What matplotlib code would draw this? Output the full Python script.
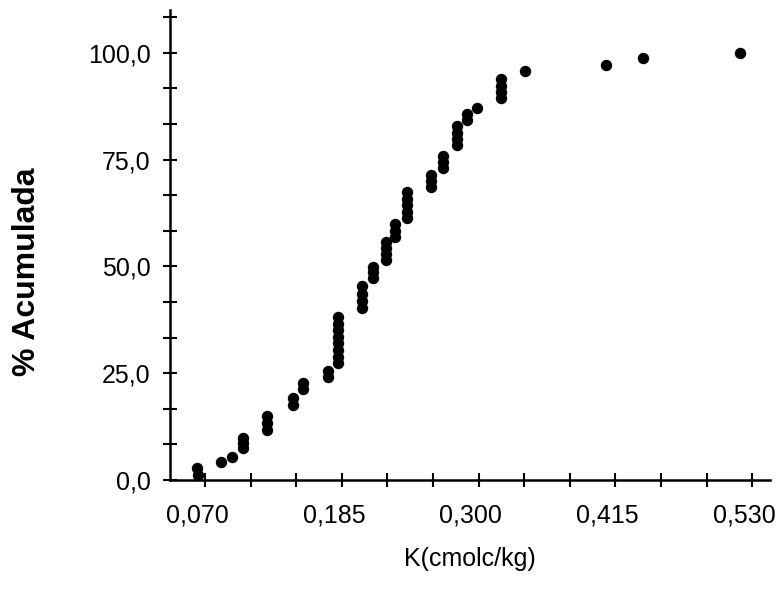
import matplotlib
matplotlib.use("Agg")
import matplotlib.pyplot as plt
from matplotlib.transforms import ScaledTranslation

plt.rcParams['font.family'] = ['Liberation Sans', 'DejaVu Sans']

# K (cmolc/kg) and cumulative percentage
k_vals = [0.063, 0.064, 0.083, 0.093,
          0.102, 0.102, 0.102,
          0.122, 0.122, 0.122,
          0.144, 0.144, 0.152, 0.152, 0.173, 0.173,
          0.182, 0.182, 0.182, 0.182, 0.182, 0.182, 0.182, 0.182,
          0.202, 0.202, 0.202, 0.202,
          0.211, 0.211, 0.211,
          0.222, 0.222, 0.222, 0.222,
          0.230, 0.230, 0.230,
          0.240, 0.240, 0.240, 0.240, 0.240,
          0.260, 0.260, 0.260,
          0.270, 0.270, 0.270,
          0.282, 0.282, 0.282, 0.282,
          0.290, 0.290, 0.299,
          0.319, 0.319, 0.319, 0.319,
          0.339, 0.407, 0.438, 0.520]
pct_vals = [2.8, 1.2, 4.2, 5.4,
            7.4, 8.6, 9.8,
            11.7, 13.3, 15.0,
            17.6, 19.3, 21.3, 22.7, 24.0, 25.4,
            27.3, 28.9, 30.4, 32.0, 33.5, 35.1, 36.6, 38.1,
            40.2, 41.9, 43.6, 45.3,
            47.2, 48.6, 49.9,
            51.4, 52.8, 54.2, 55.6,
            56.8, 58.3, 59.8,
            61.3, 62.8, 64.3, 65.8, 67.3,
            68.5, 70.0, 71.5,
            73.0, 74.4, 75.8,
            78.3, 79.8, 81.3, 82.8,
            84.2, 85.6, 87.1,
            89.3, 90.8, 92.3, 93.8,
            95.8, 97.2, 98.8, 100.0]

x_ticks = [0.070, 0.185, 0.300, 0.415, 0.530]
x_ticklabels = ["0,070", "0,185", "0,300", "0,415", "0,530"]
y_ticks = [0, 25, 50, 75, 100]
y_ticklabels = ["0,0", "25,0", "50,0", "75,0", "100,0"]

fig = plt.figure(figsize=(7.83, 5.91), dpi=100)
ax = fig.add_axes([170 / 783, 111 / 591, 600 / 783, 470 / 591])

ax.plot(k_vals, pct_vals, linestyle='none', marker='o', markersize=7.2,
        color='black', clip_on=False)

ax.set_xlim(0.0405, 0.545)
ax.set_ylim(0, 110)

ax.spines[['right', 'top']].set_visible(False)
for s in ['left', 'bottom']:
    ax.spines[s].set_linewidth(1.8)
    ax.spines[s].set_color('black')

# every label has two unlabelled ticks between it and the next one
x_step = (x_ticks[1] - x_ticks[0]) / 3
x_minor = [x_ticks[0] + i * x_step for i in range(13) if i % 3 != 0]
y_step = (y_ticks[1] - y_ticks[0]) / 3
y_minor = [i * y_step for i in range(14) if i % 3 != 0]

ax.set_xticks(x_ticks, labels=x_ticklabels)
ax.set_xticks(x_minor, minor=True)
ax.set_yticks(y_ticks, labels=y_ticklabels)
ax.set_yticks(y_minor, minor=True)

ax.tick_params(which='both', direction='inout', length=10, width=1.5, color='black')
ax.tick_params(axis='x', which='major', labelsize=18, pad=12)
ax.tick_params(axis='y', which='major', labelsize=18, pad=9)

shift = ScaledTranslation(-8 / 100, 0, fig.dpi_scale_trans)
for lab in ax.get_xticklabels():
    lab.set_transform(lab.get_transform() + shift)

ax.set_xlabel("K(cmolc/kg)", fontsize=18, labelpad=14)
fig.text(27 / 783, 1 - 272 / 591, "% Acumulada", rotation=90, fontsize=23,
         fontweight='bold', ha='center', va='center')

fig.savefig("out.png", dpi=100)
